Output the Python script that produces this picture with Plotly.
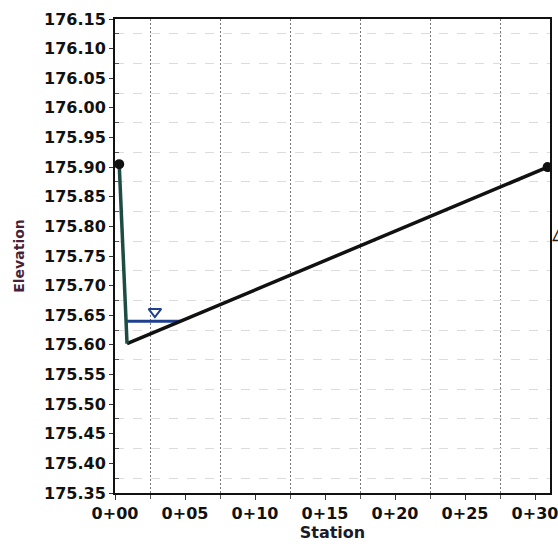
import plotly.graph_objects as go

# Ground profile (station, elevation)
ground_sta = [0.3, 0.86, 30.9]
ground_elev = [175.905, 175.602, 175.90]

# Water surface
ws_sta = [0.86, 4.69]
ws_elev = [175.64, 175.64]
ws_marker_sta = [2.85]
ws_marker_elev = [175.656]

# Extra symbol at right edge (partially cut off)
edge_sta = [31.0]
edge_elev = [175.795]

x_tickvals = [0, 5, 10, 15, 20, 25, 30]
x_ticktext = ["0+00", "0+05", "0+10", "0+15", "0+20", "0+25", "0+30"]
y_tickvals = [175.35, 175.40, 175.45, 175.50, 175.55, 175.60, 175.65, 175.70,
              175.75, 175.80, 175.85, 175.90, 175.95, 176.00, 176.05, 176.10, 176.15]
y_ticktext = ["%.2f" % v for v in y_tickvals]

fig = go.Figure()

# water surface line
fig.add_trace(go.Scatter(x=ws_sta, y=ws_elev, mode="lines",
                         line=dict(color="#1f3f8f", width=3), showlegend=False))
fig.add_trace(go.Scatter(x=ws_marker_sta, y=ws_marker_elev, mode="markers",
                         marker=dict(symbol="triangle-down-open", size=11,
                                     color="#1f3f8f", line=dict(width=2)),
                         showlegend=False))
# ground line
fig.add_trace(go.Scatter(x=ground_sta[1:], y=ground_elev[1:], mode="lines",
                         line=dict(color="#111111", width=3.5), showlegend=False))
fig.add_trace(go.Scatter(x=ground_sta[:2], y=ground_elev[:2], mode="lines",
                         line=dict(color="#1d4d42", width=3.5), showlegend=False))
fig.add_trace(go.Scatter(x=[ground_sta[0], ground_sta[-1]],
                         y=[ground_elev[0], ground_elev[-1]], mode="markers",
                         marker=dict(symbol="circle", size=10, color="#111111"),
                         cliponaxis=True, showlegend=False))

fig.add_annotation(x=edge_sta[0], y=edge_elev[0], xref="x", yref="y",
                   text="△", showarrow=False, xanchor="center", yanchor="middle",
                   xshift=13,
                   font=dict(family="DejaVu Sans", size=26, color="#222222"))

axis_font = dict(family="DejaVu Sans", size=16, color="#111111", weight="bold")

fig.update_layout(
    width=558, height=552,
    margin=dict(l=115, r=8, t=19, b=59, autoexpand=False),
    paper_bgcolor="white", plot_bgcolor="white",
    xaxis=dict(
        range=[0, 31.07], tickvals=x_tickvals, ticktext=x_ticktext,
        tickfont=axis_font, ticks="outside", ticklen=5, tickcolor="#333",
        ticklabeloverflow="allow", automargin=False,
        showgrid=False, zeroline=False,
        showline=True, linecolor="#111111", linewidth=2, mirror=True,
        minor=dict(tick0=2.5, dtick=5, showgrid=True, gridcolor="#777777",
                   griddash="2px,2px", gridwidth=1, ticks="outside", ticklen=4,
                   tickcolor="#555"),
        title=dict(text="Station", font=dict(family="DejaVu Sans", size=16,
                                             color="#1a1a2a", weight="bold"),
                   standoff=2),
    ),
    yaxis=dict(
        range=[175.35, 176.15], tickvals=y_tickvals, ticktext=y_ticktext,
        tickfont=axis_font, ticks="outside", ticklen=4, tickcolor="#333",
        automargin=False,
        showgrid=False, zeroline=False,
        showline=True, linecolor="#111111", linewidth=2, mirror=True,
        minor=dict(tick0=175.375, dtick=0.05, showgrid=True, gridcolor="#dcdcdc",
                   griddash="dash", gridwidth=1, ticks="inside", ticklen=4,
                   tickcolor="#555"),
        title=dict(text="Elevation", font=dict(family="DejaVu Sans", size=14,
                                               color="#4a1f38", weight="bold"),
                   standoff=16),
    ),
)

fig.write_html("out.html",
               config={"displayModeBar": False},
               post_script="document.body.style.margin='0';"
                           "document.body.style.overflow='hidden';")
